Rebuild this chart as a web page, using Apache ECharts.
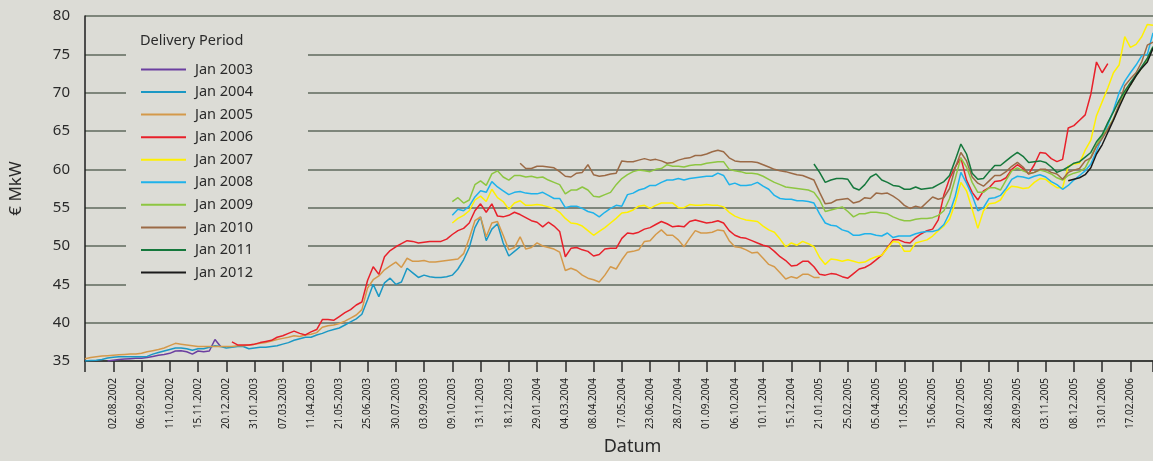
<!DOCTYPE html>
<html><head><meta charset="utf-8">
<script src="https://cdn.jsdelivr.net/npm/echarts@6/dist/echarts.min.js"></script>
<style>html,body{margin:0;padding:0;background:#dcdcd6}#c{width:1153px;height:461px}</style>
</head><body><div id="c"></div>
<script>
// x = trading-week index (one label every 5 weeks)
const tickLabels = ['02.08.2002','06.09.2002','11.10.2002','15.11.2002','20.12.2002','31.01.2003','07.03.2003','11.04.2003','21.05.2003','25.06.2003','30.07.2003','03.09.2003','09.10.2003','13.11.2003','18.12.2003','29.01.2004','04.03.2004','08.04.2004','17.05.2004','23.06.2004','28.07.2004','01.09.2004','06.10.2004','10.11.2004','15.12.2004','21.01.2005','25.02.2005','05.04.2005','11.05.2005','15.06.2005','20.07.2005','24.08.2005','28.09.2005','03.11.2005','08.12.2005','13.01.2006','17.02.2006'];
const seriesNames = ['Jan 2003','Jan 2004','Jan 2005','Jan 2006','Jan 2007','Jan 2008','Jan 2009','Jan 2010','Jan 2011','Jan 2012'];
const seriesStart = [4, 0, 0, 26, 65, 65, 65, 77, 129, 174];

const jan2003 = [35.0,35.1,35.2,35.25,35.3,35.35,35.35,35.45,35.6,35.75,35.85,36.0,36.3,36.35,36.2,35.9,36.3,36.2,36.3,37.8,36.9];
const jan2004 = [35.0,35.05,35.1,35.2,35.4,35.5,35.55,35.55,35.55,35.55,
 35.55,35.6,35.9,36.1,36.3,36.5,36.7,36.7,36.6,36.4,
 36.6,36.6,36.8,37.0,36.9,36.7,36.8,36.9,36.9,36.6,
 36.7,36.8,36.8,36.9,37.0,37.2,37.4,37.7,37.9,38.1,
 38.1,38.4,38.6,38.9,39.1,39.3,39.7,40.1,40.5,41.1,
 43.0,45.0,43.4,45.2,45.8,45.0,45.3,47.1,46.5,45.9,
 46.2,46.0,45.9,45.9,46.0,46.2,47.0,48.2,49.8,52.4,
 53.8,50.7,52.2,52.9,50.4,48.7,49.3,49.9];
const jan2005 = [35.3,35.45,35.55,35.65,35.7,35.75,35.8,35.85,35.9,35.9,
 36.0,36.2,36.35,36.5,36.7,37.0,37.3,37.2,37.1,37.0,
 36.9,36.9,36.9,36.9,36.9,36.9,36.9,37.0,37.0,37.1,
 37.2,37.3,37.4,37.6,37.8,37.95,38.1,38.3,38.2,38.4,
 38.5,38.7,39.4,39.6,39.7,39.9,40.2,40.6,41.0,41.7,
 44.5,45.6,46.1,46.9,47.4,47.9,47.2,48.4,48.0,48.0,
 48.1,47.9,47.9,48.0,48.1,48.2,48.3,49.0,51.0,53.3,
 53.8,51.2,53.0,53.2,51.4,49.5,49.8,51.2,49.6,49.8,
 50.4,50.0,49.8,49.6,49.2,46.8,47.1,46.8,46.2,45.8,
 45.6,45.3,46.2,47.3,47.0,48.2,49.2,49.3,49.5,50.6,
 50.7,51.5,52.1,51.4,51.4,50.8,49.9,51.0,52.0,51.7,
 51.7,51.8,52.1,52.0,50.7,49.9,49.8,49.5,49.1,49.2,
 48.4,47.6,47.3,46.5,45.7,46.0,45.8,46.3,46.3,45.9,
 45.9];
const jan2006 = [37.5,37.1,37.1,37.1,
 37.2,37.4,37.55,37.7,38.1,38.3,38.6,38.9,38.6,38.4,
 38.8,39.1,40.4,40.4,40.3,40.8,41.3,41.7,42.3,42.7,
 45.5,47.3,46.3,48.6,49.4,49.9,50.3,50.7,50.6,50.4,
 50.5,50.6,50.6,50.6,50.9,51.5,52.0,52.3,53.0,54.6,
 55.5,54.4,55.5,53.9,53.8,54.0,54.4,54.1,53.7,53.3,
 53.1,52.5,53.1,52.6,51.9,48.6,49.7,49.8,49.5,49.3,
 48.7,48.9,49.6,49.7,49.7,51.0,51.7,51.6,51.8,52.2,
 52.4,52.8,53.2,52.9,52.5,52.6,52.5,53.2,53.4,53.2,
 53.0,53.1,53.3,53.0,52.0,51.4,51.1,51.0,50.7,50.4,
 50.1,49.9,49.3,48.6,48.1,47.4,47.5,48.0,48.0,47.3,
 46.3,46.2,46.4,46.3,46.0,45.8,46.4,47.0,47.2,47.6,
 48.2,48.8,49.8,50.8,50.8,50.5,50.4,51.1,51.6,52.0,
 52.2,53.4,56.7,58.8,60.3,61.5,58.6,57.0,56.0,57.2,
 57.6,58.4,58.5,58.9,60.0,60.6,60.1,59.4,60.6,62.2,
 62.1,61.4,61.0,61.3,65.4,65.7,66.4,67.1,69.8,74.0,
 72.6,73.8];
const jan2007 = [53.0,53.6,54.0,54.6,56.0,
 56.5,55.8,57.4,56.3,55.8,54.8,55.6,55.9,55.3,55.3,
 55.4,55.3,55.1,54.9,54.4,53.6,53.0,52.9,52.6,52.0,
 51.4,51.9,52.4,53.0,53.6,54.3,54.4,54.7,55.2,55.3,
 54.9,55.3,55.6,55.6,55.6,55.0,55.0,55.4,55.3,55.3,
 55.4,55.3,55.3,55.1,54.4,53.9,53.6,53.4,53.3,53.2,
 52.6,52.1,51.8,50.9,49.9,50.4,50.1,50.6,50.3,49.9,
 48.5,47.6,48.3,48.2,48.0,48.2,48.0,47.8,47.9,48.3,
 48.6,48.8,49.7,50.6,50.5,49.3,49.3,50.4,50.6,50.8,
 51.3,52.0,52.6,53.5,55.6,58.3,57.2,54.8,52.3,54.6,
 55.5,55.6,56.0,57.2,57.8,57.7,57.5,57.6,58.3,58.8,
 58.7,58.1,57.6,57.6,60.4,60.7,60.8,62.5,63.8,67.0,
 68.8,70.6,72.6,73.6,77.3,75.9,76.3,77.3,78.9,78.8];
const jan2008 = [54.0,54.8,54.6,55.2,56.4,
 57.2,57.0,58.4,57.7,57.2,56.7,57.0,57.1,56.9,56.8,
 56.8,57.0,56.6,56.2,56.2,55.0,55.2,55.2,54.9,54.5,
 54.3,53.8,54.4,54.9,55.3,55.2,56.7,56.9,57.3,57.5,
 57.9,57.9,58.3,58.6,58.6,58.8,58.6,58.8,58.9,59.0,
 59.1,59.1,59.5,59.2,58.0,58.2,57.9,57.9,58.0,58.3,
 57.8,57.4,56.6,56.2,56.1,56.1,55.9,55.9,55.8,55.6,
 54.2,53.0,52.7,52.6,52.1,51.9,51.4,51.4,51.6,51.6,
 51.4,51.3,51.7,51.1,51.3,51.3,51.3,51.6,51.8,51.9,
 51.9,52.1,52.8,54.3,56.5,59.6,58.2,56.6,54.6,55.0,
 56.2,56.3,56.6,57.5,58.7,59.1,59.0,58.8,59.1,59.3,
 59.0,58.4,58.0,57.4,57.9,58.6,59.2,59.8,60.7,62.4,
 64.2,65.8,67.7,70.0,71.5,72.6,73.6,74.8,75.0,77.8];
const jan2009 = [55.8,56.3,55.6,56.0,58.0,
 58.5,57.9,59.4,59.8,59.0,58.6,59.2,59.2,59.0,59.1,
 58.9,59.0,58.6,58.3,58.0,56.8,57.3,57.3,57.7,57.3,
 56.5,56.4,56.7,57.0,58.0,58.8,59.3,59.7,59.9,59.8,
 59.7,60.0,60.1,60.6,60.4,60.4,60.3,60.5,60.6,60.6,
 60.8,60.9,61.0,61.0,60.0,59.8,59.7,59.5,59.5,59.4,
 59.1,58.7,58.3,58.0,57.7,57.6,57.5,57.4,57.3,57.0,
 56.0,54.5,54.7,54.9,55.1,54.5,53.8,54.2,54.2,54.4,
 54.4,54.3,54.2,53.8,53.5,53.3,53.3,53.5,53.6,53.6,
 53.7,54.0,54.6,56.2,58.8,61.5,60.3,58.3,57.0,57.0,
 57.6,57.6,57.3,58.6,59.8,60.2,59.8,59.5,59.6,59.9,
 59.7,59.4,58.9,58.6,59.2,59.5,59.7,60.2,61.6,63.2,
 64.4,65.3,66.6,68.3,70.0,71.0,72.2,73.2,74.3,75.8];
const jan2010 = [60.8,60.1,60.1,
 60.4,60.4,60.3,60.2,59.7,59.1,59.0,59.5,59.6,60.6,
 59.3,59.1,59.2,59.4,59.5,61.1,61.0,61.0,61.2,61.4,
 61.2,61.3,61.1,60.8,60.9,61.2,61.4,61.5,61.8,61.8,
 62.0,62.3,62.5,62.3,61.5,61.1,61.0,61.0,61.0,60.9,
 60.6,60.3,60.0,59.8,59.7,59.5,59.3,59.2,58.9,58.6,
 57.0,55.5,55.6,56.0,56.1,56.2,55.6,55.8,56.3,56.2,
 56.9,56.8,56.9,56.5,56.0,55.3,54.9,55.2,55.0,55.7,
 56.4,56.1,56.3,57.5,60.2,62.2,61.1,59.0,58.2,57.8,
 58.5,59.2,59.2,59.7,60.4,60.9,60.3,59.4,59.6,60.0,
 60.0,59.6,59.4,58.7,59.6,59.9,60.1,61.1,61.5,63.0,
 64.0,65.2,66.5,68.5,70.9,71.8,72.6,74.0,76.2,76.6];
const jan2011 = [60.7,
 59.6,58.3,58.6,58.8,58.8,58.7,57.6,57.3,58.0,59.0,
 59.4,58.6,58.3,57.9,57.8,57.4,57.4,57.7,57.4,57.5,
 57.6,58.0,58.4,59.2,61.2,63.3,62.0,59.5,58.7,58.8,
 59.7,60.5,60.5,61.1,61.7,62.2,61.7,60.9,61.0,61.1,
 60.9,60.3,59.6,59.9,60.3,60.8,61.0,61.6,62.2,63.6,
 64.5,66.1,67.5,69.0,70.2,71.3,72.3,73.4,74.5,76.0];
const jan2012 = [58.5,58.7,58.9,59.3,60.2,62.0,63.2,64.8,66.4,68.1,69.7,71.0,72.2,73.2,74.0,75.8];

const seriesValues = [jan2003, jan2004, jan2005, jan2006, jan2007, jan2008, jan2009, jan2010, jan2011, jan2012];
const colors = ['#6b3fa0','#1b98c4','#d4994a','#e8202a','#fff000','#1fb2ea','#8dc641','#9b6a46','#15783c','#1a1a1a'];

const FONT = 'Noto Sans';
const BG = '#dcdcd6';

const chart = echarts.init(document.getElementById('c'), null, {renderer: 'canvas'});
const series = seriesNames.map((name, k) => ({
  name: name,
  type: 'line',
  data: seriesValues[k].map((v, j) => [seriesStart[k] + j, v]),
  showSymbol: false,
  symbol: 'none',
  lineStyle: {width: 1.5, color: colors[k]},
  itemStyle: {color: colors[k]},
  emphasis: {disabled: true},
  z: 2
}));

chart.setOption({
  backgroundColor: BG,
  animation: false,
  textStyle: {fontFamily: FONT},
  grid: {left: 77, right: 0, top: 16, bottom: 100, containLabel: false},
  xAxis: {
    type: 'value', min: 0, max: 189, interval: 5,
    name: 'Datum', nameLocation: 'middle', nameGap: 77,
    nameTextStyle: {fontFamily: FONT, fontSize: 18, color: '#2a2a2a', padding: [0, 0, 0, 27]},
    axisLine: {show: true, onZero: false, lineStyle: {color: '#2a2a2a', width: 1.5}},
    axisTick: {show: true, length: 11, lineStyle: {color: '#2a2a2a', width: 1.5}},
    splitLine: {show: false},
    axisLabel: {
      rotate: 90, margin: 17, fontFamily: FONT, fontSize: 10, color: '#222',
      showMinLabel: true, showMaxLabel: true, hideOverlap: false,
      formatter: v => (v > 0 && v % 5 === 0 && tickLabels[v / 5 - 1]) ? tickLabels[v / 5 - 1] : ''
    }
  },
  yAxis: {
    type: 'value', min: 35, max: 80, interval: 5,
    name: '€ MkW', nameLocation: 'middle', nameGap: 60,
    nameTextStyle: {fontFamily: FONT, fontSize: 17, color: '#2a2a2a'},
    axisLine: {show: true, lineStyle: {color: '#1e1e1e', width: 1.5}},
    axisTick: {show: false},
    axisLabel: {fontFamily: FONT, fontSize: 15, color: '#2a2a2a', margin: 15},
    splitLine: {show: true, lineStyle: {color: '#5f6a5c', width: 1.6}}
  },
  legend: {
    show: true, orient: 'vertical', left: 126, top: 25,
    padding: [37, 55, 20, 15],
    backgroundColor: BG,
    icon: 'path://M0,0H45V2H0Z',
    itemWidth: 45, itemHeight: 14, itemGap: 7.56,
    itemStyle: {borderWidth: 0},
    selectedMode: false,
    textStyle: {fontFamily: FONT, fontSize: 14.5, color: '#2a2a2a', lineHeight: 15, padding: [0, 0, 0, 4]},
    data: seriesNames
  },
  graphic: [{
    type: 'text', left: 140, top: 33, z: 100,
    style: {text: 'Delivery Period', font: '14.5px "Noto Sans"', fill: '#2a2a2a'}
  }],
  series: series
});
</script></body></html>
